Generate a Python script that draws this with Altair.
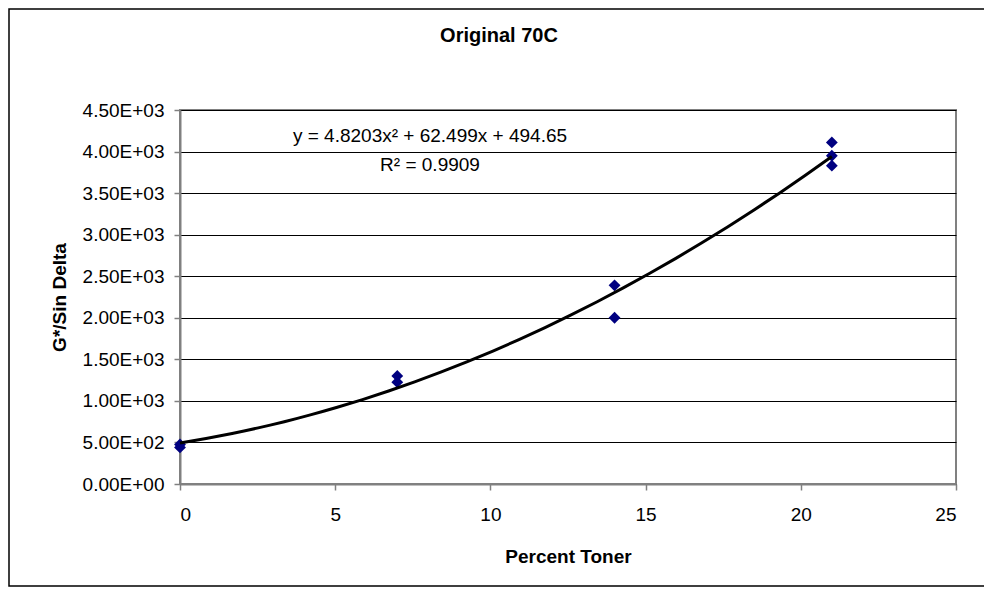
import altair as alt
import pandas as pd

# Data
percent_toner = [0, 0, 7, 7, 14, 14, 21, 21, 21]
g_sin_delta = [440, 475, 1300, 1225, 2390, 2000, 4110, 3950, 3830]
x_ticks = [0, 5, 10, 15, 20, 25]
y_ticks = [0, 500, 1000, 1500, 2000, 2500, 3000, 3500, 4000, 4500]
chart_title = "Original 70C"
x_title = "Percent Toner"
y_title = "G*/Sin Delta"
equation_lines = ["y = 4.8203x\u00b2 + 62.499x + 494.65", "R\u00b2 = 0.9909"]

df = pd.DataFrame({"percent": percent_toner, "gsd": g_sin_delta})

W, H = 776, 374
TOTAL_W, TOTAL_H = 976, 580
PAD_L, PAD_T = 172, 102
FONT = "Liberation Sans"

xscale = alt.Scale(domain=[0, 25], nice=False, zero=True)
yscale = alt.Scale(domain=[0, 4500], nice=False, zero=True)

x_enc = alt.X("percent:Q", scale=xscale,
              axis=alt.Axis(values=x_ticks, title=x_title, grid=False,
                            labelPadding=15, titlePadding=23, format="d"))
y_enc = alt.Y("gsd:Q", scale=yscale,
              axis=alt.Axis(values=y_ticks, title=y_title, grid=True,
                            labelExpr="replace(upper(format(datum.value, '.2e')), '+', '+0')",
                            labelPadding=10, titlePadding=13))

one = pd.DataFrame({"a": [0]})

border = alt.Chart(one).mark_rect(filled=False, stroke="black", strokeWidth=1.5).encode(
    x=alt.value(-171), x2=alt.value(806), y=alt.value(-101), y2=alt.value(476)
)

points = alt.Chart(df).mark_point(shape="diamond", filled=True, color="#000080",
                                  size=140, opacity=1).encode(x=x_enc, y=y_enc)

trend = alt.Chart(df).transform_regression(
    "percent", "gsd", method="poly", order=2, extent=[0, 21]
).mark_line(color="black", strokeWidth=3).encode(
    x=alt.X("percent:Q", scale=xscale), y=alt.Y("gsd:Q", scale=yscale)
)

eq1 = alt.Chart(pd.DataFrame({"t": [equation_lines[0]]})).mark_text(
    font=FONT, fontSize=19, color="black", align="center", baseline="middle"
).encode(text="t:N", x=alt.value(250), y=alt.value(26))

eq2 = alt.Chart(pd.DataFrame({"t": [equation_lines[1]]})).mark_text(
    font=FONT, fontSize=19, color="black", align="center", baseline="middle"
).encode(text="t:N", x=alt.value(250), y=alt.value(55))

title = alt.Chart(pd.DataFrame({"t": [chart_title]})).mark_text(
    font=FONT, fontSize=20, fontWeight="bold", color="black", align="center", baseline="middle"
).encode(text="t:N", x=alt.value(319), y=alt.value(-74))

chart = alt.layer(border, points, trend, eq1, eq2, title).properties(
    width=W, height=H,
    autosize=alt.AutoSizeParams(type="none"),
    padding={"left": PAD_L, "top": PAD_T,
             "right": TOTAL_W - PAD_L - W, "bottom": TOTAL_H - PAD_T - H},
).configure_view(
    stroke="#808080", strokeWidth=2
).configure_axis(
    labelFont=FONT, labelFontSize=19, labelColor="black",
    titleFont=FONT, titleFontSize=19, titleFontWeight="bold", titleColor="black",
    domainColor="#808080", domainWidth=2, tickColor="#808080", tickWidth=1.5, tickSize=6,
    gridColor="black", gridWidth=1, gridOpacity=1,
)

chart.save("out.html", embed_options={"renderer": "svg", "actions": False})
